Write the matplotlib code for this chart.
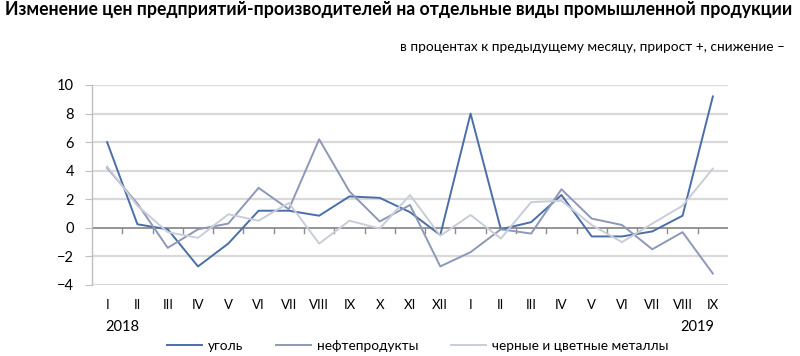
import matplotlib
matplotlib.use("Agg")
import matplotlib.pyplot as plt
from matplotlib.lines import Line2D

plt.rcParams['font.family'] = ['Lato', 'DejaVu Sans']

months = ["I", "II", "III", "IV", "V", "VI", "VII", "VIII", "IX", "X", "XI", "XII",
          "I", "II", "III", "IV", "V", "VI", "VII", "VIII", "IX"]
coal = [6.0, 0.25, -0.1, -2.7, -1.1, 1.2, 1.2, 0.85, 2.2, 2.1, 1.1, -0.5,
        8.0, -0.1, 0.4, 2.3, -0.6, -0.6, -0.25, 0.85, 9.2]
oil = [4.2, 1.7, -1.4, -0.1, 0.3, 2.8, 1.3, 6.2, 2.55, 0.45, 1.6, -2.7,
       -1.7, -0.1, -0.4, 2.7, 0.65, 0.2, -1.5, -0.3, -3.2]
metals = [4.3, 1.55, -0.3, -0.7, 0.95, 0.5, 1.75, -1.1, 0.5, -0.05, 2.3, -0.55,
          0.9, -0.75, 1.8, 1.9, 0.2, -1.0, 0.3, 1.55, 4.15]
years = ["2018", "2019"]
series_names = ["уголь", "нефтепродукты", "черные и цветные металлы"]
colors = ["#4a6ea8", "#8d98b8", "#c9cdd9"]

fig = plt.figure(figsize=(8, 3.56), dpi=100)
ax = fig.add_axes([92/800, 1-285/356, 636/800, 200/356])

x = list(range(len(months)))
ax.set_xlim(-0.5, len(months) - 0.5)
ax.set_ylim(-4, 10)
ax.set_yticks(range(-4, 11, 2))

for yv in range(-4, 11, 2):
    if yv != 0:
        ax.axhline(yv, color="#d9d9d9", lw=1.6, zorder=1)
ax.axhline(0, color="#8c8c8c", lw=1.3, zorder=2)
for i in range(len(months) - 1):
    ax.plot([i + 0.5, i + 0.5], [0, -0.35], color="#8c8c8c", lw=1.0, zorder=2)

for data, c, name in zip([coal, oil, metals], colors, series_names):
    ax.plot(x, data, color=c, lw=1.4, zorder=3, label=name)

for s in ["top", "right", "bottom"]:
    ax.spines[s].set_visible(False)
ax.spines["left"].set_color("#bfbfbf")
ax.spines["left"].set_linewidth(1.0)
ax.tick_params(axis="y", length=5, color="#bfbfbf", labelsize=10.5, pad=8, labelcolor="#000000")
ax.set_xticks(x)
ax.set_xticklabels(months, fontsize=9.5)
ax.tick_params(axis="x", length=0, pad=10)

ax.text(0.5, -0.21, years[0], transform=ax.get_xaxis_transform(), ha="center", va="center", fontsize=10.5)
ax.text(19.5, -0.21, years[1], transform=ax.get_xaxis_transform(), ha="center", va="center", fontsize=10.5)

fig.text(5/800, 1-10/356, "Изменение цен предприятий-производителей на отдельные виды промышленной продукции",
         ha="left", va="center", fontsize=12.7, fontweight="bold")
fig.text(785/800, 1-47/356, "в процентах к предыдущему месяцу, прирост +, снижение –",
         ha="right", va="center", fontsize=9.8)

handles = [Line2D([0], [0], color=c, lw=1.4) for c in colors]
fig.legend(handles, series_names, loc="center left", bbox_to_anchor=(167/800, 1-346/356), ncol=3,
           frameon=False, fontsize=9.8, handlelength=2.6, columnspacing=2.4, handletextpad=0.4,
           borderpad=0, borderaxespad=0)

fig.savefig("out.png", dpi=100)
